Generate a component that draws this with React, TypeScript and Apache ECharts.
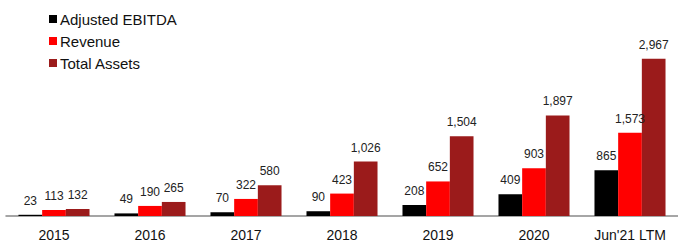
import React, { useEffect, useRef } from "react";
import * as echarts from "echarts";

const categories = ["2015", "2016", "2017", "2018", "2019", "2020", "Jun'21 LTM"];
const ebitda = [23, 49, 70, 90, 208, 409, 865];
const revenue = [113, 190, 322, 423, 652, 903, 1573];
const totalAssets = [132, 265, 580, 1026, 1504, 1897, 2967];

const fmt = (v: number) => v.toLocaleString("en-US");

export default function App() {
  const ref = useRef<HTMLDivElement>(null);
  useEffect(() => {
    const chart = echarts.init(ref.current!, null, { renderer: "svg" });
    const label = {
      show: true,
      position: "top",
      distance: 8,
      fontSize: 12,
      color: "#222",
      fontFamily: "Liberation Sans, Arial, sans-serif",
      formatter: (p: any) => fmt(p.value),
    };
    const mk = (name: string, data: number[], color: string) => ({
      name,
      type: "bar",
      data,
      barGap: "0%",
      barCategoryGap: "26%",
      itemStyle: { color },
      label,
    });
    chart.setOption({
      animation: false,
      textStyle: { fontFamily: "Liberation Sans, Arial, sans-serif" },
      legend: {
        orient: "vertical",
        left: 44,
        top: 6,
        itemWidth: 8,
        itemHeight: 8,
        itemGap: 6,
        icon: "rect",
        textStyle: { fontSize: 15, color: "#111", lineHeight: 16, padding: [0, 0, 0, -2] },
        data: ["Adjusted EBITDA", "Revenue", "Total Assets"],
      },
      grid: { left: 6, right: -7, top: 57, bottom: 25, containLabel: false },
      xAxis: {
        type: "category",
        data: categories,
        axisLine: { lineStyle: { color: "#888", width: 1.5 } },
        axisTick: { show: false },
        axisLabel: { fontSize: 14, color: "#111", margin: 12 },
      },
      yAxis: {
        type: "value",
        min: 0,
        max: 3000,
        show: false,
        splitLine: { show: false },
      },
      series: [
        mk("Adjusted EBITDA", ebitda, "#000000"),
        mk("Revenue", revenue, "#ff0000"),
        mk("Total Assets", totalAssets, "#9b1b1b"),
      ],
    });
    return () => chart.dispose();
  }, []);
  return (
    <div
      ref={ref}
      style={{ position: "fixed", left: 0, top: 0, width: 678, height: 242, background: "#fff" }}
    />
  );
}
